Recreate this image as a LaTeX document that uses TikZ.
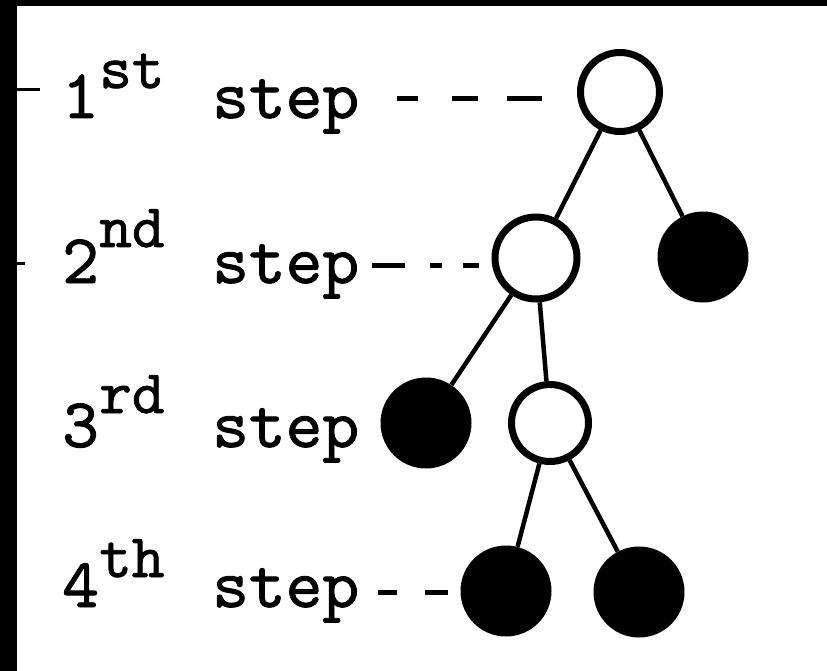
\documentclass[tikz,border=0pt]{standalone}
\usepackage{fontspec}
% heavy typewriter face
\newfontfamily\tw{lmmono10-regular.otf}[FakeBold=1.2]
\begin{document}
\begin{tikzpicture}[x=1pt,y=-1pt,
  lbl/.style={font={\tw\fontsize{70}{80}\selectfont}, inner sep=0pt, anchor=base west},
  suplbl/.style={font={\tw\fontsize{62}{70}\selectfont}, inner sep=0pt, anchor=base west},
  open/.style={circle, draw, line width=7pt, minimum size=79pt, inner sep=0pt},
  filled/.style={circle, fill, minimum size=91pt, inner sep=0pt},
  edge/.style={line width=4.5pt},
  lead/.style={line width=5pt}]

% page and black edges
\useasboundingbox (0,0) rectangle (827,671);
\fill[white] (0,0) rectangle (827,671);
\fill[black] (0,0) rectangle (827,6);
\fill[black] (0,0) rectangle (17,671);
\draw[line width=3pt] (17,90) -- (40,90);
\draw[line width=3pt] (17,263) -- (25,263);

% tree
\node[open] (c1) at (620,92) {};
\node[open, minimum size=82pt] (c2) at (536,258) {};
\node[filled] (f1) at (703,257) {};
\node[filled] (f2) at (426,423) {};
\node[open, minimum size=77pt] (c3) at (550,423) {};
\node[filled] (f3) at (506,591) {};
\node[filled] (f4) at (639,592) {};

\draw[edge] (c1) -- (c2);
\draw[edge] (c1) -- (f1);
\draw[edge] (c2) -- (f2);
\draw[edge] (c2) -- (c3);
\draw[edge] (c3) -- (f3);
\draw[edge] (c3) -- (f4);

% step labels
\node[lbl] (n1) at (62,118) {1};
\node[suplbl] (p1) at ([yshift=30pt]n1.base east) {st};
\node[lbl] (t1) at (212,118) {step};

\node[lbl] (n2) at (62,283) {2};
\node[suplbl] (p2) at ([yshift=36pt]n2.base east) {nd};
\node[lbl] (t2) at (212,283) {step};

\node[lbl] (n3) at (62,447) {3};
\node[suplbl] (p3) at ([yshift=34pt]n3.base east) {rd};
\node[lbl] (t3) at (212,447) {step};

\node[lbl] (n4) at (62,607) {4};
\node[suplbl] (p4) at ([yshift=30pt]n4.base east) {th};
\node[lbl] (t4) at (212,607) {step};

% dashed leaders from the labels to the tree
\coordinate (d1) at ([xshift=38pt,yshift=19pt]t1.base east);
\draw[lead, dash pattern=on 21pt off 34pt on 26pt off 29pt on 35pt off 200pt, shorten >=35pt]
  (d1) -- (d1 -| c1.west);
\coordinate (d2) at ([xshift=13pt,yshift=18pt]t2.base east);
\draw[lead, dash pattern=on 33pt off 25pt on 12pt off 21pt on 17pt off 200pt, shorten >=13pt]
  (d2) -- (d2 -| c2.west);
\coordinate (d4) at ([xshift=19pt,yshift=15pt]t4.base east);
\draw[lead, dash pattern=on 19pt off 28pt on 23pt off 200pt, shorten >=12pt]
  (d4) -- (d4 -| f3.west);
\end{tikzpicture}
\end{document}
